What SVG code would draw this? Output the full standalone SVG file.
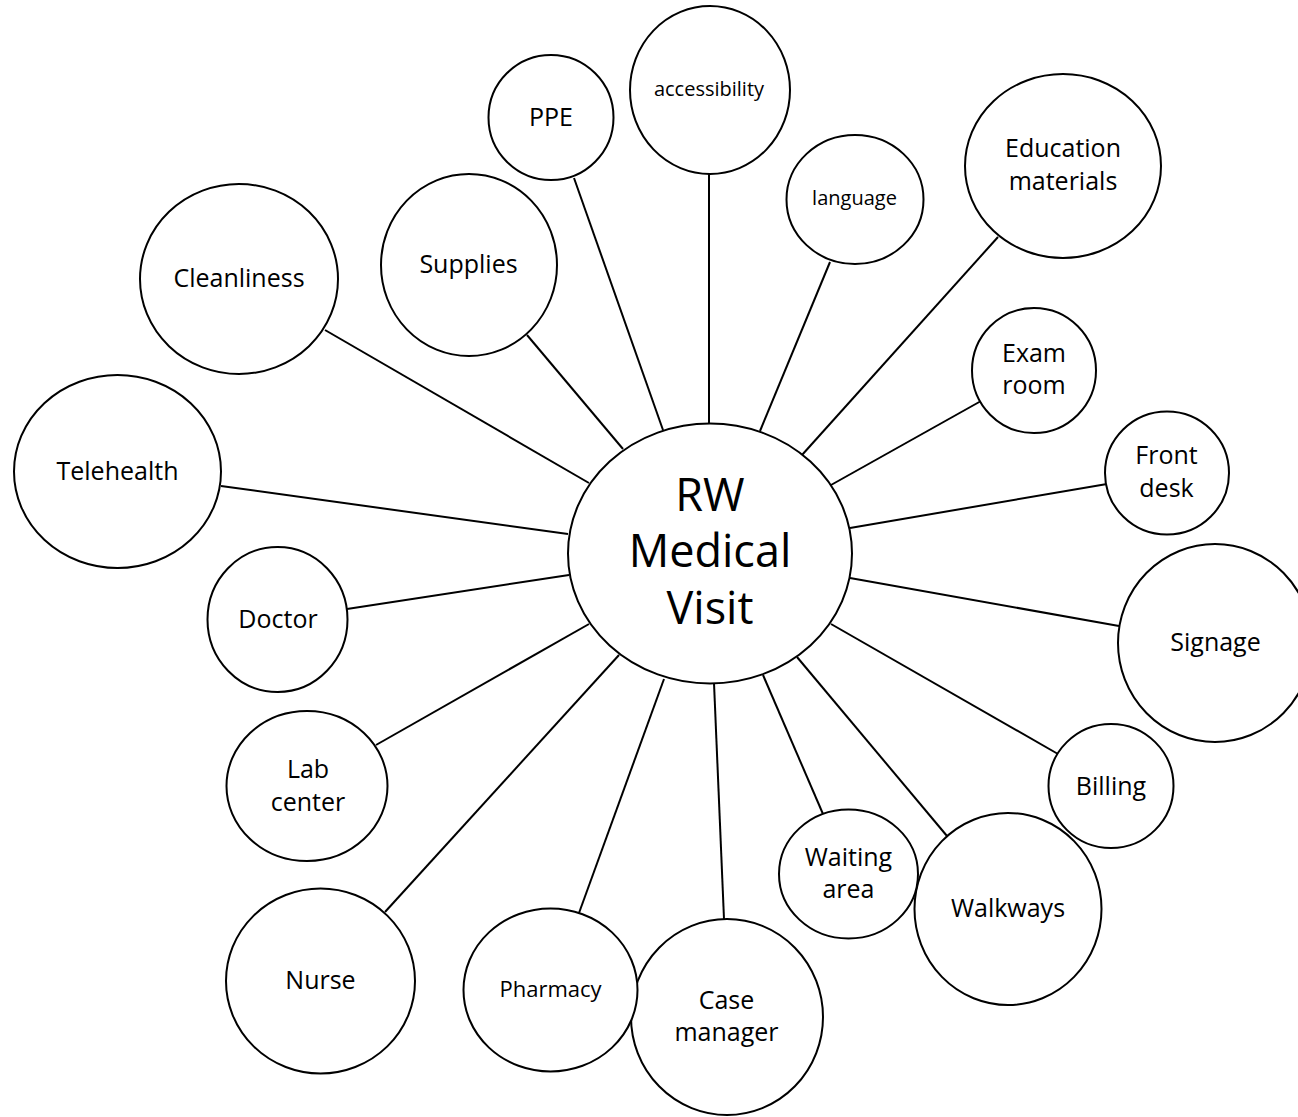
<svg xmlns="http://www.w3.org/2000/svg" width="1298" height="1117" viewBox="0 0 1298 1117">
<style>
.n{fill:#fff;stroke:#000;stroke-width:2}
.c line{stroke:#000;stroke-width:2}
text{font-family:"Open Sans","Noto Sans",sans-serif;font-size:25px;fill:#000;text-anchor:middle}
.s{font-size:20px}
.p{font-size:22px}
.big{font-size:45px}
</style>
<rect width="1298" height="1117" fill="#fff"/>
<g id="connectors" class="c">
<line x1="574" y1="178" x2="663" y2="430"/>
<line x1="527" y1="335" x2="623" y2="449"/>
<line x1="325" y1="330" x2="589" y2="483"/>
<line x1="221" y1="486" x2="568" y2="534"/>
<line x1="709" y1="174" x2="709" y2="424"/>
<line x1="830" y1="262" x2="760" y2="431"/>
<line x1="998" y1="237" x2="802" y2="455"/>
<line x1="981" y1="401" x2="831" y2="485"/>
<line x1="1107" y1="484" x2="850" y2="528"/>
<line x1="347" y1="609" x2="569" y2="575"/>
<line x1="376" y1="745" x2="589" y2="624"/>
<line x1="385" y1="912" x2="619" y2="655"/>
<line x1="579" y1="913" x2="664" y2="679"/>
<line x1="724" y1="919" x2="714" y2="683"/>
<line x1="823" y1="814" x2="763" y2="675"/>
<line x1="947" y1="836" x2="797" y2="657"/>
<line x1="1058" y1="754" x2="831" y2="624"/>
<line x1="1119" y1="626" x2="850" y2="578"/>
</g>
<g id="center"><ellipse class="n" cx="710" cy="553.5" rx="142" ry="130"/>
<text class="big" x="710" y="511">RW</text><text class="big" x="710" y="567">Medical</text><text class="big" x="710" y="624">Visit</text></g>
<g id="ppe"><ellipse class="n" cx="551" cy="117.5" rx="62.5" ry="62.5"/><text x="551" y="126">PPE</text></g>
<g id="accessibility"><ellipse class="n" cx="710" cy="90" rx="80" ry="84"/><text class="s" x="709" y="96">accessibility</text></g>
<g id="language"><ellipse class="n" cx="855" cy="199.5" rx="68.5" ry="64.5"/><text class="s" x="854.5" y="205">language</text></g>
<g id="education"><ellipse class="n" cx="1063" cy="166" rx="98" ry="92"/><text x="1063" y="157">Education</text><text x="1063" y="190">materials</text></g>
<g id="exam"><ellipse class="n" cx="1034" cy="370.5" rx="62" ry="62.5"/><text x="1034" y="362">Exam</text><text x="1034" y="394">room</text></g>
<g id="frontdesk"><ellipse class="n" cx="1167" cy="473" rx="62" ry="61.5"/><text x="1166.5" y="464">Front</text><text x="1166.5" y="497">desk</text></g>
<g id="signage"><ellipse class="n" cx="1215" cy="643" rx="97" ry="99"/><text x="1215.5" y="651">Signage</text></g>
<g id="billing"><ellipse class="n" cx="1111" cy="786" rx="62.5" ry="62"/><text x="1111" y="794.5">Billing</text></g>
<g id="walkways"><ellipse class="n" cx="1008" cy="909" rx="93.5" ry="96"/><text x="1008" y="916.5">Walkways</text></g>
<g id="waiting"><ellipse class="n" cx="848.5" cy="874" rx="69.5" ry="64.5"/><text x="848.5" y="865.5">Waiting</text><text x="848.5" y="897.5">area</text></g>
<g id="casemanager"><ellipse class="n" cx="727" cy="1017" rx="96" ry="98"/><text x="726.5" y="1009">Case</text><text x="726.5" y="1041">manager</text></g>
<g id="pharmacy"><ellipse class="n" cx="550.5" cy="990" rx="87" ry="81.5"/><text class="p" x="550.5" y="997">Pharmacy</text></g>
<g id="nurse"><ellipse class="n" cx="320.5" cy="981" rx="94.5" ry="92.5"/><text x="320.5" y="989">Nurse</text></g>
<g id="lab"><ellipse class="n" cx="307" cy="786" rx="80.5" ry="75"/><text x="308" y="777.5">Lab</text><text x="308" y="810.5">center</text></g>
<g id="doctor"><ellipse class="n" cx="277.5" cy="619.5" rx="70" ry="72.5"/><text x="278" y="627.5">Doctor</text></g>
<g id="telehealth"><ellipse class="n" cx="117.5" cy="471.5" rx="103.5" ry="96.5"/><text x="117.5" y="479.5">Telehealth</text></g>
<g id="cleanliness"><ellipse class="n" cx="239" cy="279" rx="99" ry="95"/><text x="239" y="287">Cleanliness</text></g>
<g id="supplies"><ellipse class="n" cx="469" cy="265" rx="88" ry="91"/><text x="468.5" y="272.5">Supplies</text></g>
</svg>
